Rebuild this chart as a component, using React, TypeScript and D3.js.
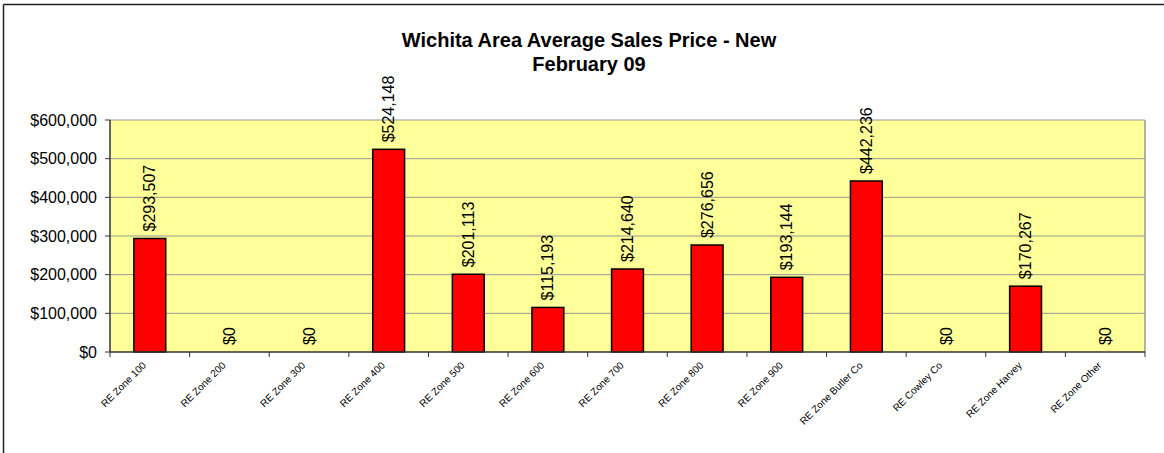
import React from "react";
import * as d3 from "d3";

const categories = [
  "RE Zone 100", "RE Zone 200", "RE Zone 300", "RE Zone 400", "RE Zone 500",
  "RE Zone 600", "RE Zone 700", "RE Zone 800", "RE Zone 900", "RE Zone Butler Co",
  "RE Cowley Co", "RE Zone Harvey", "RE Zone Other",
];
const values = [293507, 0, 0, 524148, 201113, 115193, 214640, 276656, 193144, 442236, 0, 170267, 0];
const yTicks = [0, 100000, 200000, 300000, 400000, 500000, 600000];
const titleLines = ["Wichita Area Average Sales Price - New", "February 09"];

const W = 1164, H = 453;
const left = 110, right = 1145, top = 120, bottom = 352;

export default function App() {
  const x = d3.scaleBand<string>().domain(categories).range([left, right]).paddingInner(0).paddingOuter(0);
  const y = d3.scaleLinear().domain([0, 600000]).range([bottom, top]);
  const fmt = (v: number) => "$" + d3.format(",")(v);
  const bw = x.bandwidth() * 0.4;
  const font = "Arial, 'Liberation Sans', sans-serif";
  return (
    <svg width={W} height={H} style={{ position: "absolute", left: 0, top: 0 }} fontFamily={font}>
      <rect x={0} y={0} width={W} height={H} fill="#fff" />
      <line x1={3.5} y1={4.5} x2={3.5} y2={H} stroke="#222" strokeWidth={1.5} />
      <line x1={3.5} y1={4.5} x2={W} y2={4.5} stroke="#222" strokeWidth={1.5} />
      {titleLines.map((t, i) => (
        <text key={i} x={589} y={47 + i * 24} textAnchor="middle" fontWeight="bold" fontSize={20} fill="#000">{t}</text>
      ))}
      <rect x={left} y={top} width={right - left} height={bottom - top} fill="#FFFF99" />
      {yTicks.map((t) => (
        <g key={t}>
          {t > 0 && <line x1={left} x2={right} y1={y(t)} y2={y(t)} stroke="#999" strokeWidth={1} />}
          <line x1={left - 5} x2={left} y1={y(t)} y2={y(t)} stroke="#333" />
          <text x={97} y={y(t)} dy="0.35em" textAnchor="end" fontSize={16} fill="#000">{fmt(t)}</text>
        </g>
      ))}
      <line x1={right} x2={right} y1={top} y2={bottom} stroke="#999" strokeWidth={1.5} />
      {values.map((v, i) => {
        const c = categories[i];
        const cx = (x(c) as number) + x.bandwidth() / 2;
        return (
          <g key={c}>
            {v > 0 && (
              <rect x={cx - bw / 2} y={y(v)} width={bw} height={bottom - y(v)} fill="#FF0000" stroke="#000" strokeWidth={1.5} />
            )}
            <text transform={`translate(${cx},${y(v) - 7}) rotate(-90)`} dy="0.35em" fontSize={16} fill="#000">{fmt(v)}</text>
            <text transform={`translate(${cx - 3},${366}) rotate(-45)`} textAnchor="end" fontSize={10} fill="#000">{c}</text>
          </g>
        );
      })}
      <line x1={left} x2={left} y1={top} y2={bottom} stroke="#333" strokeWidth={1.5} />
      <line x1={left} x2={right} y1={bottom} y2={bottom} stroke="#333" strokeWidth={1.5} />
      {categories.map((c) => (
        <line key={c} x1={(x(c) as number) + x.bandwidth()} x2={(x(c) as number) + x.bandwidth()} y1={bottom} y2={bottom + 5} stroke="#333" />
      ))}
      <line x1={left} x2={left} y1={bottom} y2={bottom + 5} stroke="#333" />
    </svg>
  );
}
